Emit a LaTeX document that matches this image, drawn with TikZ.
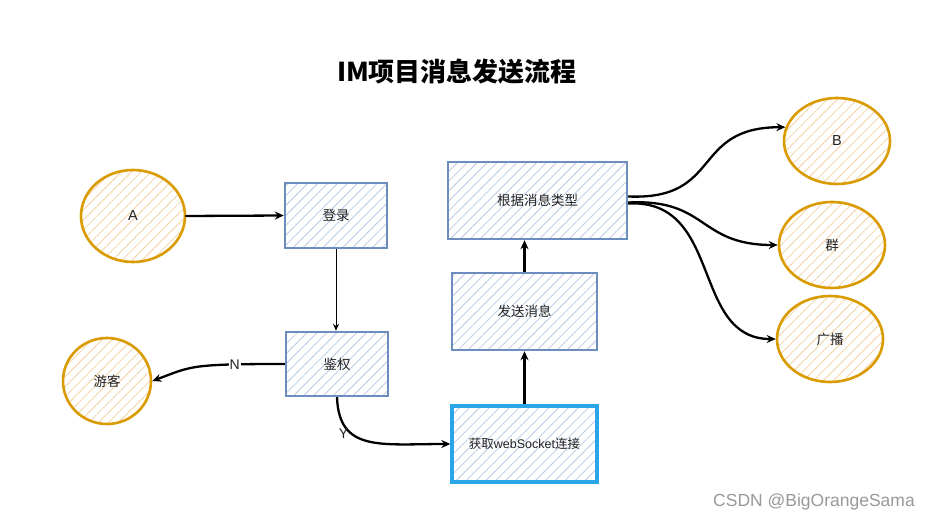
\documentclass[tikz,border=0pt]{standalone}
\usepackage{fontspec}
\setmainfont{Noto Sans CJK SC}
\newfontfamily\lat{Liberation Sans}
\usetikzlibrary{arrows.meta,patterns.meta,shapes.geometric}
\definecolor{boxline}{HTML}{6C8EBF}
\definecolor{boxhatch}{HTML}{BACAE4}
\definecolor{ovalline}{HTML}{D99B00}
\definecolor{ovalhatch}{HTML}{F3D2A4}
\definecolor{wsline}{HTML}{29A6E8}
\definecolor{inktext}{HTML}{222222}
\tikzset{
  stepbox/.style={draw=boxline, line width=2.4pt, rectangle,
    pattern={Lines[angle=45,distance=7pt,line width=0.8pt]}, pattern color=boxhatch,
    text=inktext, font=\fontsize{13.5}{15}\selectfont, inner sep=0pt},
  oval/.style={draw=ovalline, line width=2.6pt, ellipse,
    pattern={Lines[angle=45,distance=7pt,line width=0.8pt]}, pattern color=ovalhatch,
    text=inktext, font=\fontsize{13.5}{15}\selectfont, inner sep=0pt},
  flow/.style={line width=2.3pt, black, -{Stealth[length=9pt,width=8pt]}},
  thinflow/.style={line width=1pt, black, -{Stealth[length=7pt,width=6pt]}},
  edgelabel/.style={font=\lat\fontsize{14}{16}\selectfont, text=inktext, fill=white, inner sep=1pt},
}
\begin{document}
\begin{tikzpicture}[x=1pt,y=-1pt]
  \useasboundingbox[fill=white] (0,0) rectangle (929,521);

  % heading
  \node[font=\fontsize{26}{30}\selectfont\bfseries, text=black] (title) at (457,72) {IM项目消息发送流程};

  % rounded actors
  \node[oval, minimum width=104pt, minimum height=92pt] (A) at (133,216) {\lat\fontsize{14.5}{16}\selectfont A};
  \node[oval, minimum width=88pt, minimum height=86pt] (guest) at (107,381) {游客};
  \node[oval, minimum width=106pt, minimum height=86pt] (B) at (837,141) {\lat\fontsize{14.5}{16}\selectfont B};
  \node[oval, minimum width=106pt, minimum height=86pt] (group) at (832,245) {群};
  \node[oval, minimum width=106pt, minimum height=86pt] (bcast) at (830,339) {广播};

  % process steps
  \node[stepbox, minimum width=102pt, minimum height=65pt] (login) at (336,215.5) {登录};
  \node[stepbox, minimum width=102pt, minimum height=64pt] (auth) at (337,364) {鉴权};
  \node[stepbox, draw=wsline, line width=3.4pt, minimum width=145pt, minimum height=76pt,
    font=\fontsize{12.5}{14}\selectfont] (ws) at (524.5,444) {获取{\lat webSocket}连接};
  \node[stepbox, minimum width=145pt, minimum height=77pt] (send) at (524.5,311.5) {发送消息};
  \node[stepbox, minimum width=179pt, minimum height=77pt] (type) at (537.5,200.5) {根据消息类型};

  % connectors
  \draw[flow] (A.east) -- (login.west);
  \draw[thinflow] (login.south) -- (login.south |- auth.north);
  \draw[flow] (auth.west) .. controls +(-95,0) and +(40,-15) .. (guest.east)
    node[edgelabel, pos=0.22] {N};
  \draw[flow] (auth.south) .. controls +(2,55) and +(-70,0) .. (ws.west)
    node[edgelabel, pos=0.33, left=1pt, fill=none] {Y};
  \draw[flow] (ws.north) -- (send.south);
  \draw[flow] (send.north) -- (send.north |- type.south);
  \draw[flow] ([yshift=4pt]type.east) .. controls +(95,4) and +(-95,0) .. (B.165);
  \draw[flow] ([yshift=-2pt]type.east) .. controls +(80,-4) and +(-80,0) .. (group.west);
  \draw[flow] ([yshift=-3pt]type.east) .. controls +(95,-5) and +(-85,0) .. (bcast.west);

  % watermark
  \node[font=\lat\fontsize{17.5}{20}\selectfont, text=gray!80] (mark) at (814,502) {CSDN @BigOrangeSama};
\end{tikzpicture}
\end{document}
